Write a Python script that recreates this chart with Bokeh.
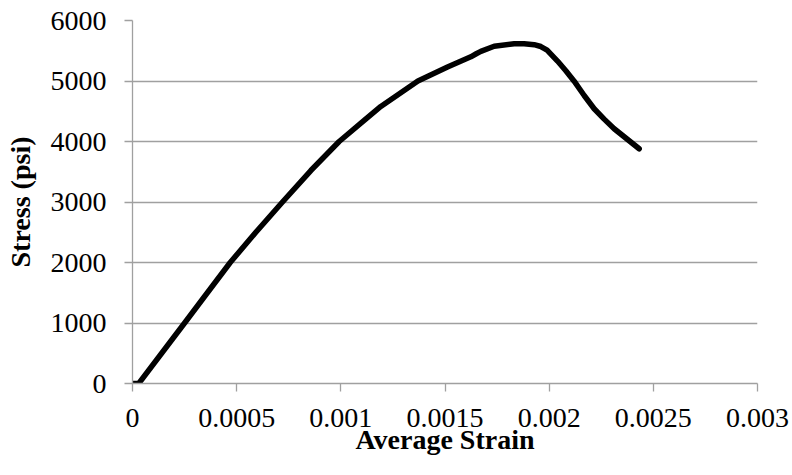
from bokeh.plotting import figure
from bokeh.models import ColumnDataSource, FixedTicker, Range1d
from bokeh.embed import file_html
from bokeh.resources import INLINE

# Data
strain = [0.0, 0.00003, 0.00025, 0.000344, 0.000469, 0.000592, 0.00072, 0.000856,
          0.000992, 0.001112, 0.001192, 0.00137, 0.001512, 0.001624, 0.00165, 0.001672,
          0.001736, 0.001832, 0.00188, 0.001928, 0.00196, 0.00199, 0.00204, 0.00208,
          0.00212, 0.002168, 0.002216, 0.002264, 0.002312, 0.002432]
stress = [0, 0, 1000, 1430, 2000, 2500, 3000, 3520,
          4000, 4350, 4580, 5000, 5230, 5400, 5450, 5490,
          5575, 5614, 5614, 5600, 5570, 5510, 5330, 5170,
          4997, 4760, 4541, 4370, 4211, 3880]

x_ticks = [0, 0.0005, 0.001, 0.0015, 0.002, 0.0025, 0.003]
x_tick_labels = ["0", "0.0005", "0.001", "0.0015", "0.002", "0.0025", "0.003"]
y_ticks = [0, 1000, 2000, 3000, 4000, 5000, 6000]
y_tick_labels = ["0", "1000", "2000", "3000", "4000", "5000", "6000"]

FONT = "Liberation Serif"
GRID = "#a0a0a0"

p = figure(frame_width=625, frame_height=363,
           min_border_left=132, min_border_right=35,
           min_border_top=20, min_border_bottom=92,
           x_range=Range1d(0, 0.003), y_range=Range1d(0, 6000),
           output_backend="svg", toolbar_location=None,
           x_axis_label="Average Strain", y_axis_label="Stress (psi)")

p.outline_line_color = None
p.background_fill_color = "white"
p.border_fill_color = "white"

p.xgrid.grid_line_color = None
p.ygrid.grid_line_color = GRID
p.ygrid.grid_line_width = 1.3

for ax, ticks, labels in ((p.xaxis, x_ticks, x_tick_labels), (p.yaxis, y_ticks, y_tick_labels)):
    ax.ticker = FixedTicker(ticks=ticks)
    ax.major_label_overrides = {t: l for t, l in zip(ticks, labels)}
    ax.axis_line_color = GRID
    ax.axis_line_width = 1.3
    ax.major_tick_line_color = GRID
    ax.major_tick_line_width = 1.3
    ax.major_tick_in = 0
    ax.major_tick_out = 8
    ax.minor_tick_line_color = None
    ax.major_label_text_font = FONT
    ax.major_label_text_font_size = "28px"
    ax.major_label_text_color = "black"
    ax.axis_label_text_font = FONT
    ax.axis_label_text_font_size = "28px"
    ax.axis_label_text_font_style = "bold"
    ax.axis_label_text_color = "black"

p.xaxis.major_label_standoff = 17
p.xaxis.axis_label_standoff = -6
p.yaxis.major_label_standoff = 18
p.yaxis.axis_label_standoff = 12

src = ColumnDataSource(data=dict(x=strain, y=stress))
p.line("x", "y", source=src, line_color="black", line_width=5.5,
       line_cap="round", line_join="round")

open("out.html", "w").write(file_html(p, INLINE))
